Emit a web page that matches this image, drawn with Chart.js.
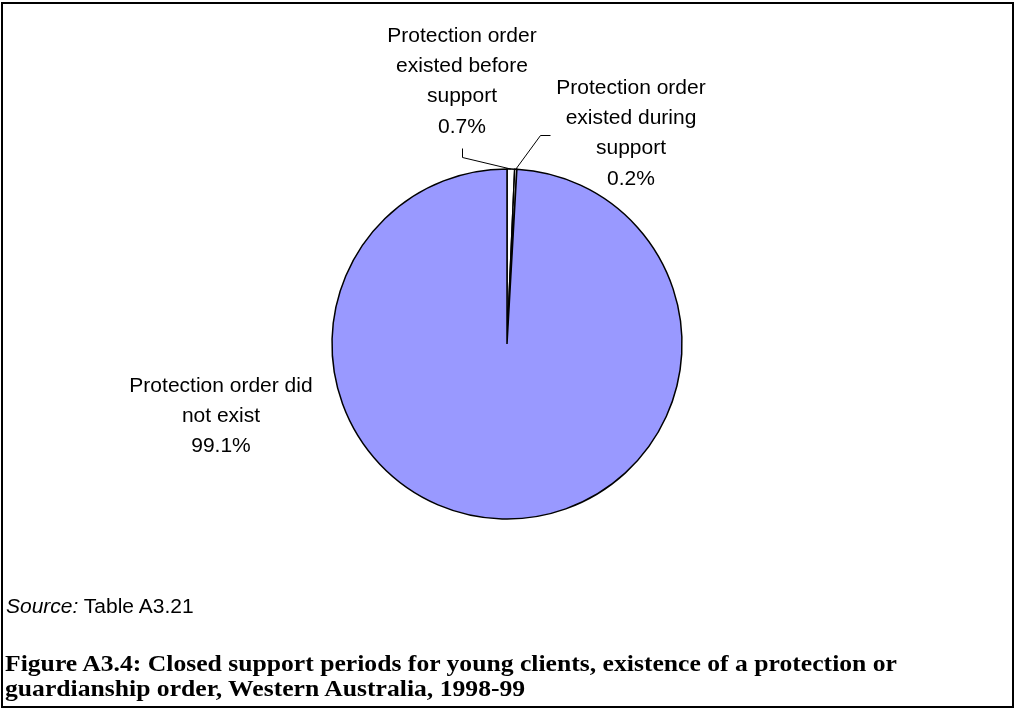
<!DOCTYPE html>
<html>
<head>
<meta charset="utf-8">
<script src="https://cdn.jsdelivr.net/npm/chart.js@4/dist/chart.umd.min.js"></script>
<style>
    html, body { margin: 0; padding: 0; background: #fff; }
    #wrap {
        position: relative;
        width: 1015px;
        height: 710px;
        box-sizing: border-box;
    }
    #frame {
        position: absolute;
        left: 1px; top: 2px;
        width: 1013px; height: 706px;
        box-sizing: border-box;
        border: 2px solid #000;
        pointer-events: none;
    }
    #pie { position: absolute; left: 0; top: 0; }
    #source {
        position: absolute;
        left: 6px; top: 595px;
        font: 20px "Liberation Sans", Arial, sans-serif;
        line-height: 22px;
        white-space: nowrap;
        transform-origin: 0 0;
        transform: scaleX(1.05);
    }
    #caption {
        position: absolute;
        left: 5px; top: 651px;
        font: bold 22.5px "Liberation Serif", "Times New Roman", serif;
        line-height: 25px;
        white-space: nowrap;
        transform-origin: 0 0;
        transform: scaleX(1.14);
    }
</style>
</head>
<body>
<div id="wrap">
    <canvas id="pie" width="1015" height="710"></canvas>
    <div id="frame"></div>
    <div id="source"><i>Source:</i> Table A3.21</div>
    <div id="caption">Figure A3.4: Closed support periods for young clients, existence of a protection or<br>guardianship order, Western Australia, 1998-99</div>
</div>
<script>
// Категории и значения (%)
const categories = [
    ['Protection order', 'existed before', 'support'],
    ['Protection order', 'existed during', 'support'],
    ['Protection order did', 'not exist']
];
const shares = [0.7, 0.2, 99.1];
const sliceColors = ['#FFFFFF', '#FFFFFF', '#9999FF'];

// Где ставить подписи: центр текста и излом выноски
const LABEL_LAYOUT = [
    { x: 462, y: 36, leader: [[462, 148], [462, 157]] },
    { x: 631, y: 88, leader: [[550, 135], [540, 135]] },
    { x: 221, y: 386, leader: null }
];

const LINE_H = 30.3;

// Подписи секторов с выносками
const pieLabels = {
    id: 'pieLabels',
    afterDatasetsDraw(chart) {
        const { ctx } = chart;
        const meta = chart.getDatasetMeta(0);
        ctx.save();
        ctx.font = '21px "Liberation Sans", Arial, sans-serif';
        ctx.fillStyle = '#000';
        ctx.textAlign = 'center';
        ctx.textBaseline = 'middle';
        meta.data.forEach((arc, i) => {
            const lay = LABEL_LAYOUT[i];
            const lines = categories[i].concat(shares[i].toFixed(1) + '%');
            lines.forEach((t, k) => ctx.fillText(t, lay.x, lay.y + k * LINE_H));

            if (lay.leader) {
                const { x, y, startAngle, endAngle, outerRadius } = arc.getProps(
                    ['x', 'y', 'startAngle', 'endAngle', 'outerRadius'], true);
                const mid = (startAngle + endAngle) / 2;
                const ax = x + Math.cos(mid) * outerRadius;
                const ay = y + Math.sin(mid) * outerRadius;
                ctx.beginPath();
                ctx.lineWidth = 1;
                ctx.strokeStyle = '#000';
                ctx.moveTo(lay.leader[0][0] + 0.5, lay.leader[0][1] + 0.5);
                ctx.lineTo(lay.leader[1][0] + 0.5, lay.leader[1][1] + 0.5);
                ctx.lineTo(ax, ay);
                ctx.stroke();
            }
        });
        ctx.restore();
    }
};

new Chart(document.getElementById('pie'), {
    type: 'pie',
    data: {
        labels: categories.map(c => c.join(' ')),
        datasets: [{
            data: shares,
            backgroundColor: sliceColors,
            borderColor: '#000',
            borderWidth: 1.5,
            borderJoinStyle: 'miter'
        }]
    },
    options: {
        responsive: false,
        animation: false,
        events: [],
        radius: 175,
        layout: {
            padding: { top: 169, bottom: 191, left: 332, right: 333 }
        },
        plugins: {
            legend: { display: false },
            tooltip: { enabled: false }
        }
    },
    plugins: [pieLabels]
});
</script>
</body>
</html>
